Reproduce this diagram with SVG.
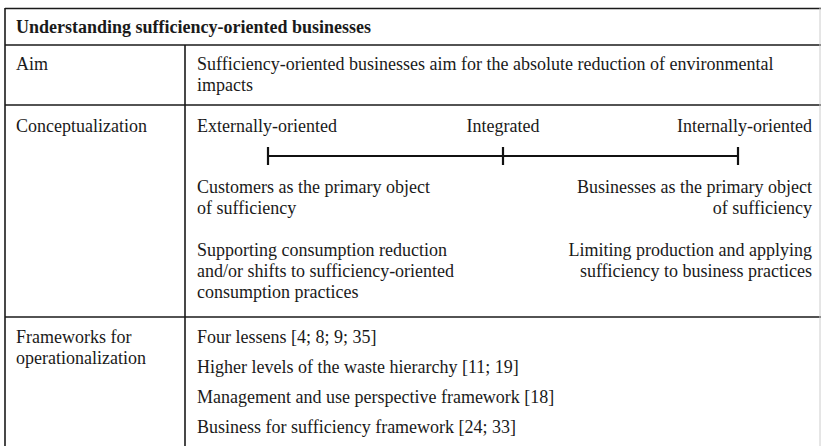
<svg xmlns="http://www.w3.org/2000/svg" width="821" height="446" viewBox="0 0 821 446">
<style>
text{font-family:"Liberation Serif","Times New Roman",serif;font-size:18px;fill:#1a1a1a}
.b{font-weight:bold}
.r{text-anchor:end}
.m{text-anchor:middle}
.ln{stroke:#1a1a1a;stroke-width:1.6;fill:none}
.sc{stroke:#111;stroke-width:2.2;fill:none}
</style>
<rect width="821" height="446" fill="#fff"/>
<g id="grid">
<line class="ln" x1="5" y1="8.5" x2="821" y2="8.5"/>
<line class="ln" x1="5" y1="45" x2="821" y2="45"/>
<line class="ln" x1="5" y1="105" x2="821" y2="105"/>
<line class="ln" x1="5" y1="317" x2="821" y2="317"/>
<line class="ln" x1="5" y1="8" x2="5" y2="446"/>
<line class="ln" x1="185" y1="45" x2="185" y2="446"/>
<line x1="820" y1="8" x2="820" y2="446" stroke="#ccc" stroke-width="1"/>
</g>
<g id="header"><text class="b" x="16" y="33">Understanding sufficiency-oriented businesses</text></g>
<g id="aim">
<text x="16" y="70">Aim</text>
<text x="197" y="70">Sufficiency-oriented businesses aim for the absolute reduction of environmental</text>
<text x="197" y="91">impacts</text>
</g>
<g id="conceptualization">
<text x="16" y="132">Conceptualization</text>
<text x="197" y="132">Externally-oriented</text>
<text class="m" x="503" y="132">Integrated</text>
<text class="r" x="812" y="132">Internally-oriented</text>
<text x="197" y="193">Customers as the primary object</text>
<text x="197" y="214">of sufficiency</text>
<text x="197" y="256">Supporting consumption reduction</text>
<text x="197" y="277">and/or shifts to sufficiency-oriented</text>
<text x="197" y="298">consumption practices</text>
<text class="r" x="812" y="193">Businesses as the primary object</text>
<text class="r" x="812" y="214">of sufficiency</text>
<text class="r" x="812" y="256">Limiting production and applying</text>
<text class="r" x="812" y="277">sufficiency to business practices</text>
</g>
<g id="scale">
<line class="sc" x1="268" y1="156" x2="738" y2="156"/>
<line class="sc" x1="268" y1="147" x2="268" y2="165"/>
<line class="sc" x1="503" y1="147" x2="503" y2="165"/>
<line class="sc" x1="738" y1="147" x2="738" y2="165"/>
</g>
<g id="frameworks">
<text x="16" y="343">Frameworks for</text>
<text x="16" y="364">operationalization</text>
<text x="197" y="343">Four lessens [4; 8; 9; 35]</text>
<text x="197" y="373">Higher levels of the waste hierarchy [11; 19]</text>
<text x="197" y="403">Management and use perspective framework [18]</text>
<text x="197" y="433">Business for sufficiency framework [24; 33]</text>
</g>
</svg>
